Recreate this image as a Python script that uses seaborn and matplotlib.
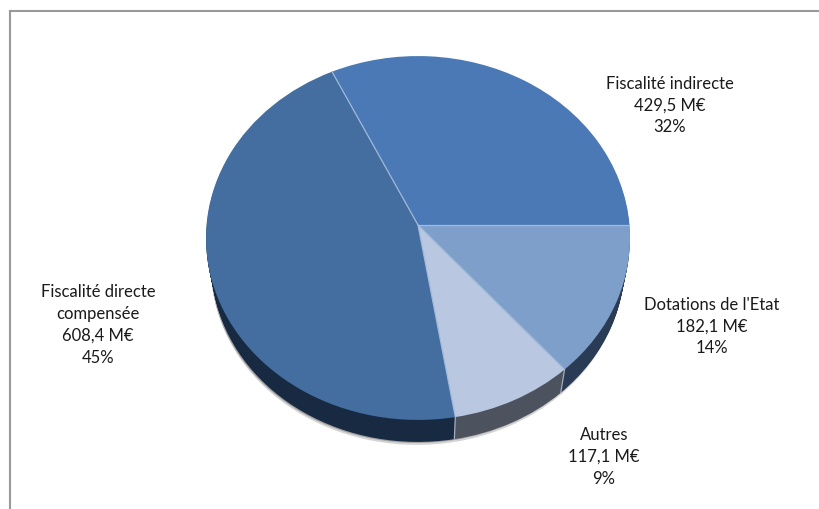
import matplotlib
matplotlib.use("Agg")
import matplotlib.pyplot as plt
import matplotlib.transforms as mtrans
import numpy as np
import seaborn as sns

# Recettes, dans l'ordre du camembert (sens trigo depuis 3h)
noms = ["Fiscalité indirecte", "Fiscalité directe\ncompensée", "Autres", "Dotations de l'Etat"]
valeurs = [429.5, 608.4, 117.1, 182.1]
pourcents = [32, 45, 9, 14]

couleurs = ["#4a79b5", "#436e9f", "#b9c7e0", "#7f9fcb"]
couleurs_cote = ["#1b3250", "#182a42", "#4d535e", "#2a3b56"]

# position des etiquettes en pixels
pos_labels = [(670, 105.5), (98, 325), (604, 457), (712, 326.5)]

# vue en perspective du disque (centre, echelles, fuite)
CX, CY = 418, 225
RX, RY = 211.5, 181
FUITE = 0.0714
EPAISSEUR = 22
RETRAIT = 0.0012  # le bas du disque est plus loin, donc plus petit


class Perspective(mtrans.Transform):
    input_dims = 2
    output_dims = 2

    def __init__(self, d=0, dx=0):
        super().__init__()
        self.d = d
        self.dx = dx

    def transform_non_affine(self, xy):
        xy = np.asarray(xy)
        w = 1 + FUITE * xy[:, 1]
        s = 1 - RETRAIT * self.d
        # decalage corrige pour garder le bas du disque a d pixels
        dy = self.d + (1 - s) * RY / (1 - FUITE)
        return np.column_stack([CX + self.dx + s * RX * xy[:, 0] / w,
                                CY + dy - s * RY * xy[:, 1] / w])


sns.set_theme(style="white")
plt.rcParams["font.family"] = ["Lato", "DejaVu Sans"]

fig = plt.figure(figsize=(8.2, 5.09), dpi=100)
ax = fig.add_axes([10 / 820, 0, 810 / 820, 498 / 509])


def disque(cols, d=0, dx=0, **wedgeprops):
    wedges, _ = ax.pie(valeurs, colors=cols, startangle=0, counterclock=True,
                       radius=1, wedgeprops=wedgeprops)
    for w in wedges:
        w.set_transform(Perspective(d, dx) + ax.transData)
    return wedges


# ombre puis tranche
disque(["#d4d4d4"] * 4, d=EPAISSEUR + 3, dx=-1, linewidth=0)
disque(["#a0a0a0"] * 4, d=EPAISSEUR + 1, dx=-1, linewidth=0)
for d in range(EPAISSEUR, 0, -1):
    disque(couleurs_cote, d=d, linewidth=0)

# separations sur la tranche
angles = np.cumsum(valeurs) / np.sum(valeurs) * 2 * np.pi
bord = np.column_stack([np.cos(angles), np.sin(angles)])
haut = Perspective().transform(bord)
bas = Perspective(EPAISSEUR).transform(bord)
for i in [1, 2]:
    ax.plot([haut[i, 0], bas[i, 0]], [haut[i, 1], bas[i, 1]], color="#a3adbb", lw=0.9, zorder=3)

# dessus
for w in disque(couleurs, linewidth=0):
    w.set_zorder(4)
for i in range(len(valeurs)):
    ax.plot([CX, haut[i, 0]], [CY, haut[i, 1]], color="#a3bbdb", lw=0.9, zorder=4.5)

for nom, val, pct, (x, y) in zip(noms, valeurs, pourcents, pos_labels):
    txt = f"{nom}\n{val:.1f} M€\n{pct}%".replace(".", ",")
    ax.text(x, y, txt, ha="center", va="center", fontsize=12, color="#1a1a1a",
            linespacing=1.45, zorder=5)

ax.set_aspect("auto")
ax.set_xlim(10, 820)
ax.set_ylim(509, 11)
ax.set_xticks([])
ax.set_yticks([])
ax.set_frame_on(True)
sns.despine(ax=ax, top=False, left=False, right=True, bottom=True)
for cote in ["left", "top"]:
    ax.spines[cote].set_color("#999999")
    ax.spines[cote].set_linewidth(1.5)

fig.savefig("out.png", dpi=100)
